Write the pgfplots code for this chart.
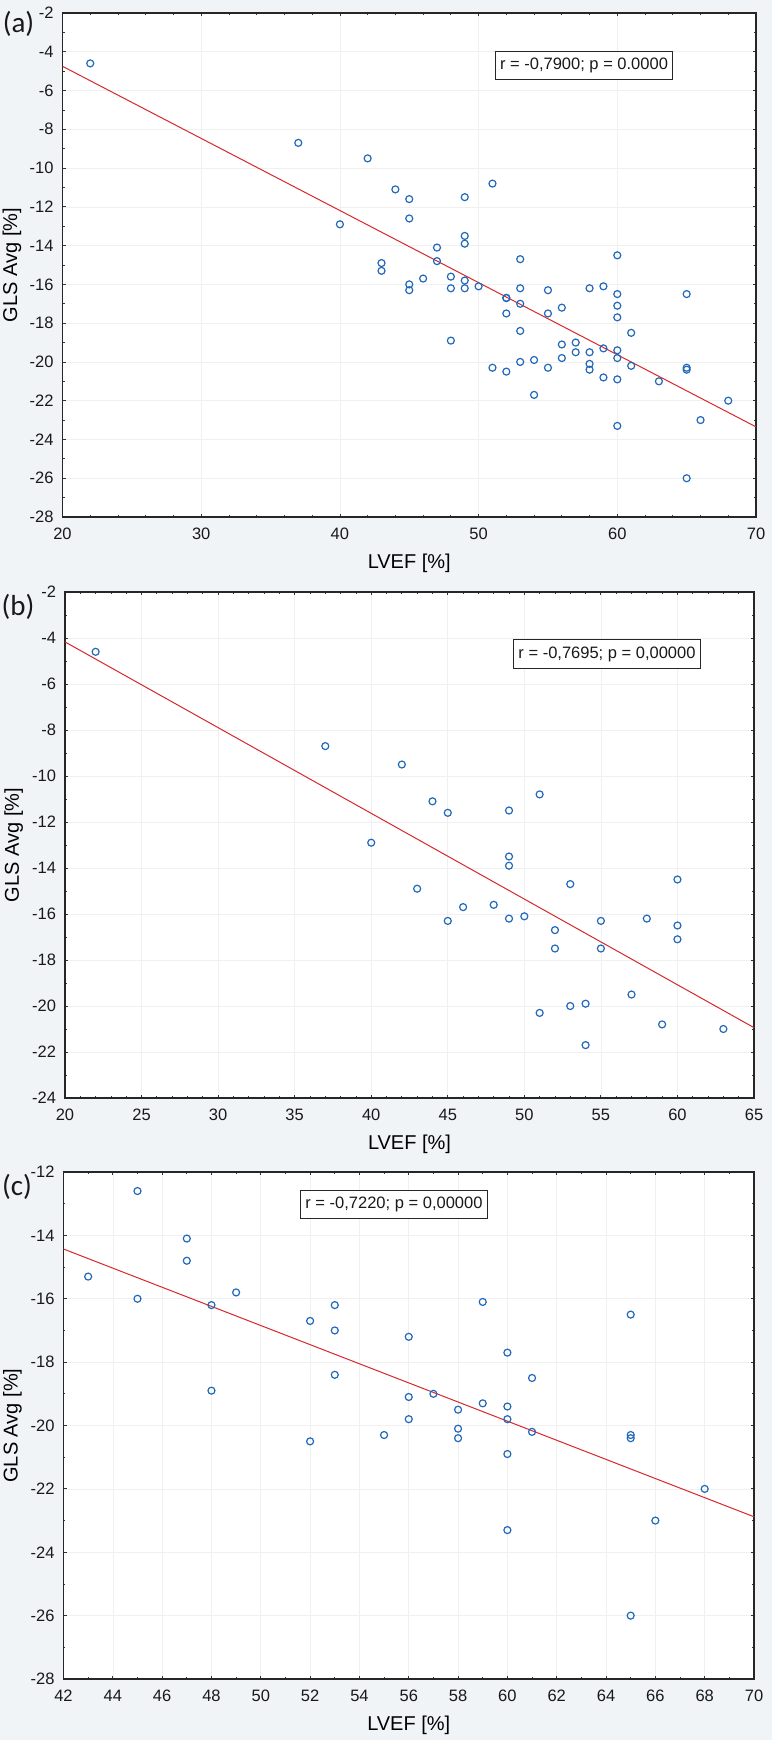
\documentclass[border=0pt]{standalone}
\usepackage{pgfplots}
\pgfplotsset{compat=1.18}
\usepackage{pgfplotstable}
\usepackage{fontspec}
\setmainfont{Liberation Sans}
\newfontfamily\calib{Carlito}
\definecolor{ptblue}{RGB}{35,105,185}
\definecolor{regred}{RGB}{215,40,45}
\definecolor{bgc}{RGB}{241,244,247}

\pgfplotstableread{
x y
22 -4.6
37 -8.7
42 -9.5
44 -11.1
45 -11.6
49 -11.5
51 -10.8
40 -12.9
49 -13.5
49 -13.9
43 -14.9
53 -14.7
60 -14.5
46 -15.7
48 -15.6
45 -16.3
49 -16.2
50 -16.1
52 -16.7
52 -17.5
55 -16.3
55 -17.5
58 -16.2
60 -16.5
60 -17.1
57 -19.5
51 -20.3
53 -20.0
54 -19.9
54 -21.7
59 -20.8
63 -21.0
}\tabB

\pgfplotstableread{
x y
43 -15.3
45 -12.6
45 -16.0
47 -14.1
47 -14.8
48 -16.2
48 -18.9
49 -15.8
52 -16.7
53 -16.2
53 -17.0
53 -18.4
56 -17.2
56 -19.1
56 -19.8
57 -19.0
55 -20.3
58 -19.5
58 -20.1
58 -20.4
59 -16.1
59 -19.3
60 -17.7
60 -19.4
60 -19.8
61 -18.5
61 -20.2
65 -16.5
65 -20.3
65 -20.4
52 -20.5
60 -20.9
68 -22.0
66 -23.0
60 -23.3
65 -26.0
}\tabC

\tikzset{
  rbox/.style={draw=black!85, line width=0.5pt, fill=white, inner xsep=2.5pt, minimum height=12.5pt, font=\fontsize{8.25}{10}\selectfont, text=black!90},
}
\pgfplotsset{
  panel/.style={
    scale only axis,
    anchor=north west,
    axis background/.style={fill=white},
    tick align=inside,
    major tick length=1.6pt,
    minor tick length=1pt,
    grid=major,
    major grid style={color=black!6, line width=0.3pt},
    axis line style={black!85, line width=0.6pt},
    every tick/.style={black!80, line width=0.4pt},
    tick label style={font=\fontsize{8.25}{10}\selectfont, text=black!90},
    xticklabel style={yshift=-2pt},
    yticklabel style={xshift=-1pt},
    label style={font=\fontsize{8.25}{10}\selectfont, text=black!90},
    /pgf/number format/assume math mode=true,
    every axis x label/.style={at={(axis description cs:0.5,0)}, anchor=center, yshift=-23pt},
    xlabel={LVEF [\%]},
    ylabel={GLS Avg [\%]},
  },
  pts/.style={only marks, mark=o, mark size=1.75pt, color=ptblue, mark options={line width=0.6pt}},
  reg/.style={color=regred, line width=0.5pt, no marks},
}

\begin{document}
\begin{tikzpicture}
\path[use as bounding box, fill=bgc] (0,0) rectangle (386pt,-870pt);

% (a)
\begin{axis}[panel,
  at={(31.25pt,-6.5pt)}, width=346.75pt, height=252pt,
  xmin=20, xmax=70, ymin=-28, ymax=-2,
  xtick distance=10, ytick distance=2,
  minor x tick num=4, minor y tick num=1,
  every axis y label/.style={at={(axis description cs:-0.0728,0.5)}, rotate=90, anchor=center},
]
\addplot[reg] coordinates {(20,-4.75) (70,-23.35)};
\addplot[pts] table[x=x,y=y] {\tabB};
\addplot[pts] table[x=x,y=y] {\tabC};
\node[rbox] at (axis cs:57.6,-4.71) {r = -0,7900; p = 0.0000};
\end{axis}

% (b)
\begin{axis}[panel,
  at={(32.5pt,-296pt)}, width=344.5pt, height=253pt,
  xmin=20, xmax=65, ymin=-24, ymax=-2,
  xtick distance=5, ytick distance=2,
  minor x tick num=4, minor y tick num=1,
  every axis y label/.style={at={(axis description cs:-0.0743,0.5)}, rotate=90, anchor=center},
]
\addplot[reg] coordinates {(20,-4.17) (65,-20.94)};
\addplot[pts] table[x=x,y=y] {\tabB};
\node[rbox] at (axis cs:55.4,-4.70) {r = -0,7695; p = 0,00000};
\end{axis}

% (c)
\begin{axis}[panel,
  at={(31.75pt,-586pt)}, width=345.25pt, height=253.5pt,
  xmin=42, xmax=70, ymin=-28, ymax=-12,
  xtick distance=2, ytick distance=2,
  minor x tick num=1, minor y tick num=1,
  every axis y label/.style={at={(axis description cs:-0.0741,0.5)}, rotate=90, anchor=center},
]
\addplot[reg] coordinates {(42,-14.43) (70,-22.88)};
\addplot[pts] table[x=x,y=y] {\tabC};
\node[rbox] at (axis cs:55.4,-13.03) {r = -0,7220; p = 0,00000};
\end{axis}

\node[font=\calib\fontsize{14.5}{16}\selectfont, text=black!90, inner sep=0pt] at (9.25pt,-11.75pt) {(a)};
\node[font=\calib\fontsize{14.5}{16}\selectfont, text=black!90, inner sep=0pt] at (9pt,-303.5pt) {(b)};
\node[font=\calib\fontsize{14.5}{16}\selectfont, text=black!90, inner sep=0pt] at (8.5pt,-593.5pt) {(c)};
\end{tikzpicture}
\end{document}
